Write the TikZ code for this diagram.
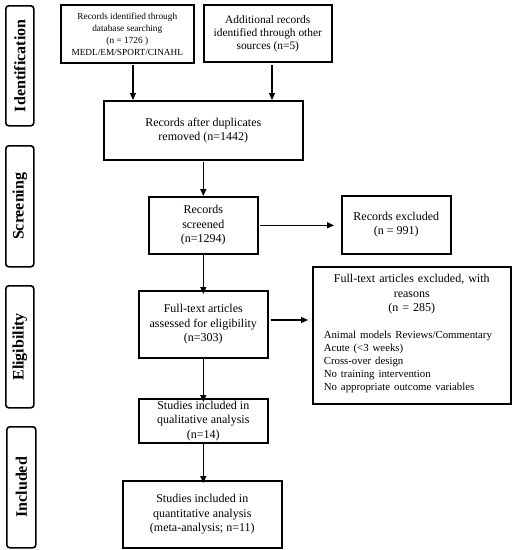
\documentclass[tikz,border=0pt]{standalone}
\usepackage{fontspec}
\setmainfont{Liberation Serif}
\usetikzlibrary{arrows.meta,positioning}
\tikzset{
  box/.style={draw, line width=1.6pt, align=center, inner sep=1pt, font=\fontsize{12}{14.5}\selectfont},
  midbox/.style={box, font=\fontsize{11.4}{13}\selectfont},
  smallbox/.style={box, font=\fontsize{9.3}{12}\selectfont},
  phase/.style={draw, line width=1.6pt, rounded corners=3pt},
  phasetext/.style={rotate=90, font=\bfseries\fontsize{16}{18}\selectfont},
  arr/.style={-{Triangle[length=7pt,width=6pt]}, line width=1.2pt},
}
\newcommand{\boxat}[6]{% name, x1, y1, x2, y2, style
  \node[#6, minimum width={#4pt-#2pt}, minimum height={#5pt-#3pt}, anchor=north west] (#1) at (#2pt,-#3pt)}
\begin{document}
\begin{tikzpicture}[x=1pt,y=-1pt]
\useasboundingbox (0,0) rectangle (513,550);
% phases
\boxat{ph1}{5}{5}{33}{125}{phase}{};
\node[phasetext] (t1) at (ph1.center) {Identification};
\boxat{ph2}{5}{145}{33}{266}{phase}{};
\node[phasetext] (t2) at (ph2.center) {Screening};
\boxat{ph3}{5}{285}{33}{407}{phase}{};
\node[phasetext] (t3) at (ph3.center) {Eligibility};
\boxat{ph4}{6}{426}{35}{547}{phase}{};
\node[phasetext] (t4) at (ph4.center) {Included};
% boxes
\boxat{b1}{60}{4}{193}{62}{smallbox}{Records identified through\\database searching\\(n = 1726 )\\MEDL/EM/SPORT/CINAHL};
\boxat{b2}{203}{4}{331}{61}{midbox}{Additional records\\identified through other\\sources (n=5)};
\boxat{b3}{103}{100}{302}{159}{box}{Records after duplicates\\removed (n=1442)};
\boxat{b4}{148}{196}{257}{253}{box}{Records\\screened\\(n=1294)};
\boxat{b5}{341}{195}{450}{253}{box}{Records excluded\\(n = 991)};
\boxat{b6}{138}{290}{267}{357}{box}{Full-text articles\\assessed for eligibility\\(n=303)};
\boxat{b7}{312}{266}{510}{403}{box}{};
\node[anchor=north, align=left, text width=176pt, inner sep=0pt, font=\fontsize{12}{14.5}\selectfont] (b7t) at ([yshift=-8pt]b7.north) {\centering Full-text articles excluded, with\\ reasons\\ (n = 285)\par\vspace{14pt}\raggedright\fontsize{10.8}{13}\selectfont Animal models Reviews/Commentary\\Acute (<3 weeks)\\Cross-over design\\No training intervention\\No appropriate outcome variables\par};
\boxat{b8}{138}{398}{267}{442}{box}{Studies included in\\qualitative analysis\\(n=14)};
\boxat{b9}{122}{480}{281}{547}{box}{Studies included in\\quantitative analysis\\(meta-analysis; n=11)};
% arrows
\coordinate (a1s) at (133,65);
\coordinate (a2s) at (272,65);
\draw[arr] (a1s) -- (a1s |- b3.north);
\draw[arr] (a2s) -- (a2s |- b3.north);
\draw[arr] ([yshift=-1pt]b3.south) -- (b4.north);
\coordinate (e1) at (334,224);
\draw[arr] ([xshift=1pt]b4.east) -- (e1 |- b4.east);
\draw[arr] (b4.south) -- ([yshift=-4pt]b6.north);
\coordinate (e2) at (308,320);
\draw[arr] ([xshift=2pt]b6.east |- e2) -- (e2);
\draw[arr] (b6.south) -- ([yshift=-4pt]b8.north);
\draw[arr] (b8.south) -- ([yshift=-3pt]b8.south |- b9.north);
\end{tikzpicture}
\end{document}
